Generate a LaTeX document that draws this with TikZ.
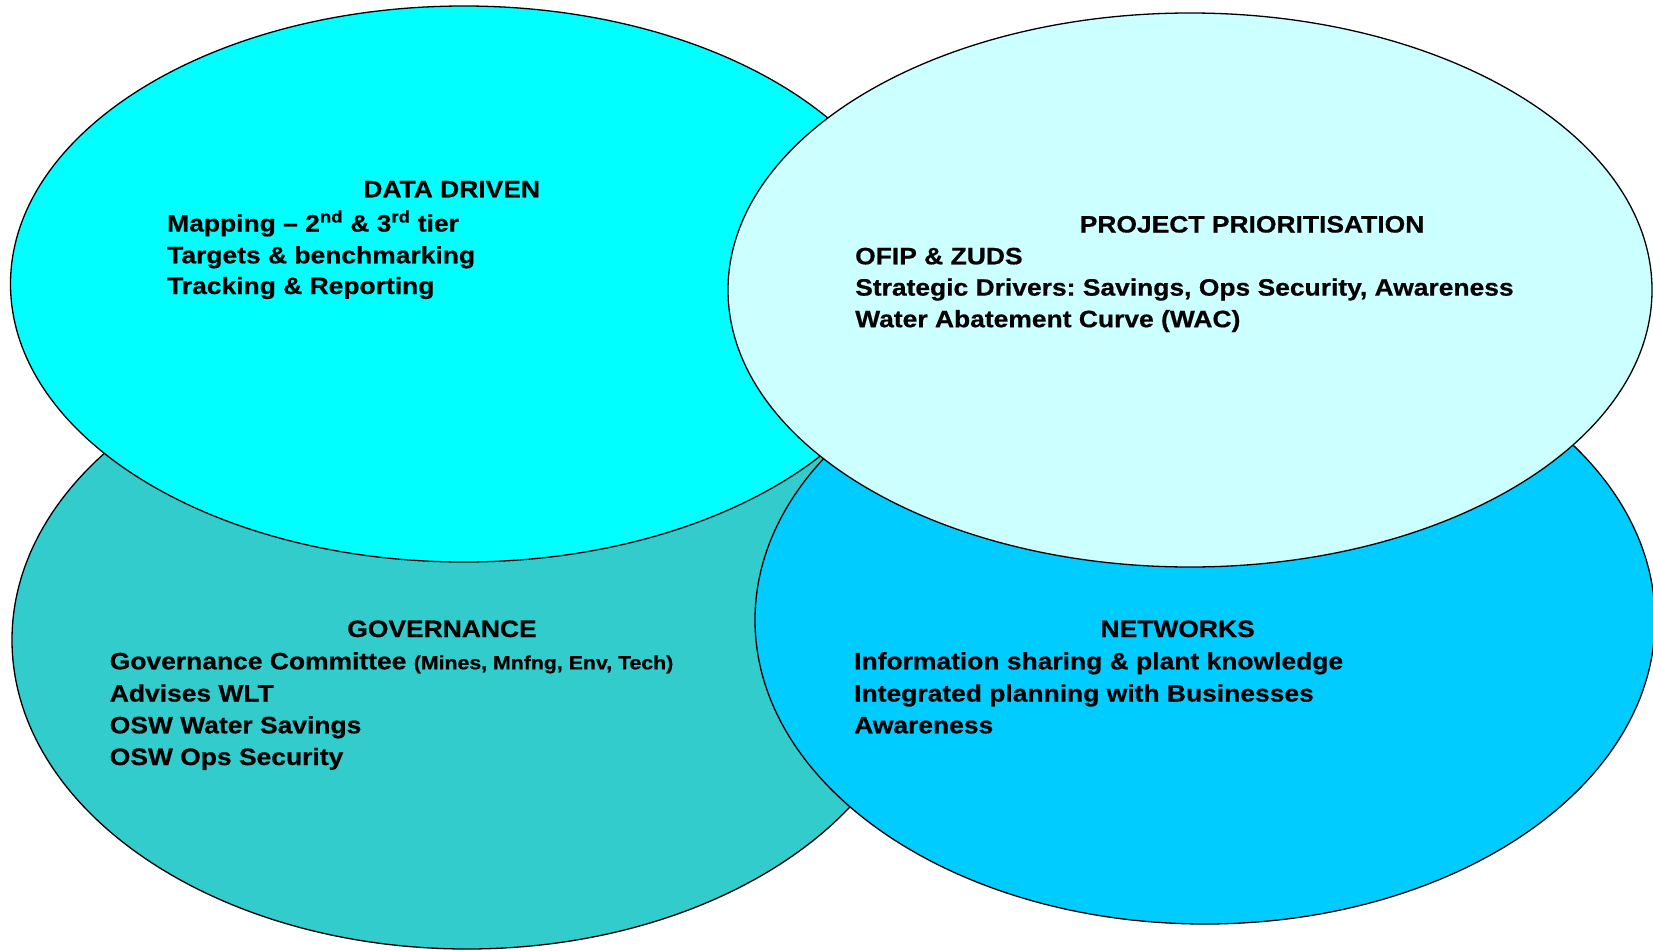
\documentclass[tikz,border=0pt]{standalone}
\usepackage{fontspec}
\setmainfont{Liberation Sans}[FakeStretch=1.115, BoldFeatures={FakeBold=0.6}]
\frenchspacing
\definecolor{ddcol}{HTML}{00FFFF}
\definecolor{ppcol}{HTML}{CCFFFF}
\definecolor{govcol}{HTML}{33CCCC}
\definecolor{netcol}{HTML}{00CCFF}
\tikzset{
  blob/.style={draw=black, line width=1.3pt},
  ttl/.style={anchor=base, inner sep=0pt, font=\fontsize{23.7}{28}\selectfont\bfseries},
  itm/.style={anchor=base west, inner sep=0pt, font=\fontsize{23.7}{28}\selectfont\bfseries},
}
\begin{document}
\begin{tikzpicture}[x=1pt, y=-1pt]
\useasboundingbox (0,0) rectangle (1653,950);
\clip (0,0) rectangle (1653,950);
\fill[white] (0,0) rectangle (1653,950);
% ellipses (back to front)
\filldraw[blob, fill=govcol] (467,640) ellipse [x radius=455pt, y radius=309pt];
\filldraw[blob, fill=netcol] (1205,620) ellipse [x radius=450pt, y radius=304pt];
\filldraw[blob, fill=ddcol] (464,284) ellipse [x radius=453.5pt, y radius=278pt];
\filldraw[blob, fill=ppcol] (1190,290) ellipse [x radius=462pt, y radius=277pt];
% DATA DRIVEN
\node[ttl] (ddt) at (451.7,197.3) {DATA DRIVEN};
\node[itm] (dd1) at (167,231.5) {Mapping -- 2\textsuperscript{nd} \& 3\textsuperscript{rd} tier};
\node[itm] (dd2) at (167,263.3) {Targets \& benchmarking};
\node[itm] (dd3) at (167,294) {Tracking \& Reporting};
% PROJECT PRIORITISATION
\node[ttl] (ppt) at (1252,232.5) {PROJECT PRIORITISATION};
\node[itm] (pp1) at (855,264.3) {OFIP \& ZUDS};
\node[itm] (pp2) at (855,295.6) {Strategic Drivers: Savings, Ops Security, Awareness};
\node[itm] (pp3) at (855,327.2) {Water Abatement Curve (WAC)};
% GOVERNANCE
\node[ttl] (gvt) at (442,637) {GOVERNANCE};
\node[itm] (gv1) at (109.6,669.3) {Governance Committee {\fontsize{19.1}{22}\selectfont (Mines, Mnfng, Env, Tech)}};
\node[itm] (gv2) at (109.6,701.5) {Advises WLT};
\node[itm] (gv3) at (109.6,733.3) {OSW Water Savings};
\node[itm] (gv4) at (109.6,765) {OSW Ops Security};
% NETWORKS
\node[ttl] (nwt) at (1177.6,637) {NETWORKS};
\node[itm] (nw1) at (854,669.3) {Information sharing \& plant knowledge};
\node[itm] (nw2) at (854,701.5) {Integrated planning with Businesses};
\node[itm] (nw3) at (854,733.3) {Awareness};
\end{tikzpicture}
\end{document}
